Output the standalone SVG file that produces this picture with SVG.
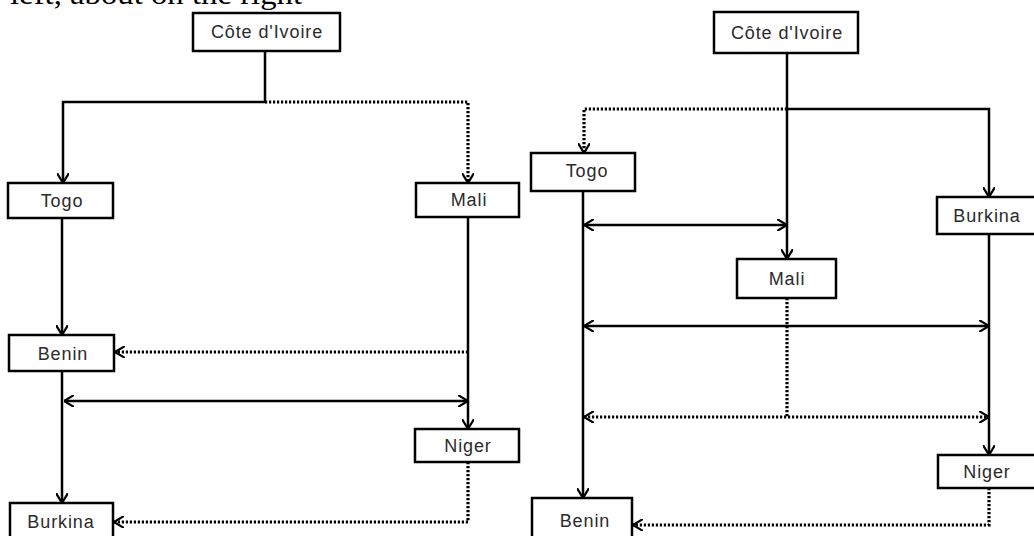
<svg xmlns="http://www.w3.org/2000/svg" width="1034" height="536" viewBox="0 0 1034 536">
<style>
.box{fill:#fff;stroke:#000;stroke-width:2.5}
.lbl{font-family:"Liberation Sans",Arial,sans-serif;font-size:18px;letter-spacing:0.9px;fill:#2b2b2b;text-anchor:middle}
.s{fill:none;stroke:#000;stroke-width:2.5}
.d{fill:none;stroke:#000;stroke-width:3.2;stroke-dasharray:2.2 1.8}
.top{font-family:"Liberation Serif","Times New Roman",serif;font-size:30px;fill:#000}
</style>
<defs>
<marker id="ah" viewBox="0 0 10 12" refX="10" refY="6" markerWidth="10" markerHeight="12" markerUnits="userSpaceOnUse" orient="auto-start-reverse">
<path d="M0,0 L10,6 L0,12" fill="none" stroke="#000" stroke-width="2.2"/>
</marker>
</defs>
<rect width="1034" height="536" fill="#fff"/>
<text class="top" x="10" y="4" textLength="292" lengthAdjust="spacingAndGlyphs">left, about on the right</text>
<g id="connectors">
<path class="s" d="M265,51 V102 H63 V183" marker-end="url(#ah)"/>
<path class="d" d="M265,102 H468 V183" marker-end="url(#ah)"/>
<path class="s" d="M62,218 V335" marker-end="url(#ah)"/>
<path class="s" d="M468,217 V429" marker-end="url(#ah)"/>
<path class="d" d="M468,352 H115" marker-end="url(#ah)"/>
<path class="s" d="M62,371 V503" marker-end="url(#ah)"/>
<path class="s" d="M64,401 H468" marker-start="url(#ah)" marker-end="url(#ah)"/>
<path class="d" d="M468,462 V522 H114" marker-end="url(#ah)"/>
<path class="s" d="M787,53 V259" marker-end="url(#ah)"/>
<path class="s" d="M787,109 H989 V197" marker-end="url(#ah)"/>
<path class="d" d="M787,109 H584 V153" marker-end="url(#ah)"/>
<path class="s" d="M583,191 V498" marker-end="url(#ah)"/>
<path class="s" d="M584,225 H787" marker-start="url(#ah)" marker-end="url(#ah)"/>
<path class="s" d="M584,326 H989" marker-start="url(#ah)" marker-end="url(#ah)"/>
<path class="s" d="M989,234 V455" marker-end="url(#ah)"/>
<path class="d" d="M787,298 V417"/>
<path class="d" d="M584,417 H989" marker-start="url(#ah)" marker-end="url(#ah)"/>
<path class="d" d="M989,488 V525 H633" marker-end="url(#ah)"/>
</g>
<g id="cote1"><rect class="box" x="193" y="13" width="147" height="38"/><text class="lbl" x="267" y="38">Côte d'Ivoire</text></g>
<g id="togo1"><rect class="box" x="8" y="183" width="105" height="35"/><text class="lbl" x="62" y="207">Togo</text></g>
<g id="mali1"><rect class="box" x="416" y="183" width="103" height="34"/><text class="lbl" x="469" y="206">Mali</text></g>
<g id="benin1"><rect class="box" x="9" y="335" width="105" height="36"/><text class="lbl" x="63" y="360">Benin</text></g>
<g id="niger1"><rect class="box" x="415" y="429" width="104" height="33"/><text class="lbl" x="468" y="452">Niger</text></g>
<g id="burkina1"><rect class="box" x="10" y="503" width="103" height="36"/><text class="lbl" x="61" y="528">Burkina</text></g>
<g id="cote2"><rect class="box" x="714" y="12" width="144" height="41"/><text class="lbl" x="787" y="39">Côte d'Ivoire</text></g>
<g id="togo2"><rect class="box" x="531" y="153" width="104" height="38"/><text class="lbl" x="587" y="177">Togo</text></g>
<g id="burkina2"><rect class="box" x="937" y="197" width="100" height="37"/><text class="lbl" x="987" y="222">Burkina</text></g>
<g id="mali2"><rect class="box" x="737" y="259" width="99" height="39"/><text class="lbl" x="787" y="285">Mali</text></g>
<g id="niger2"><rect class="box" x="938" y="455" width="100" height="33"/><text class="lbl" x="987" y="478">Niger</text></g>
<g id="benin2"><rect class="box" x="532" y="498" width="100" height="42"/><text class="lbl" x="585" y="527">Benin</text></g>
</svg>
